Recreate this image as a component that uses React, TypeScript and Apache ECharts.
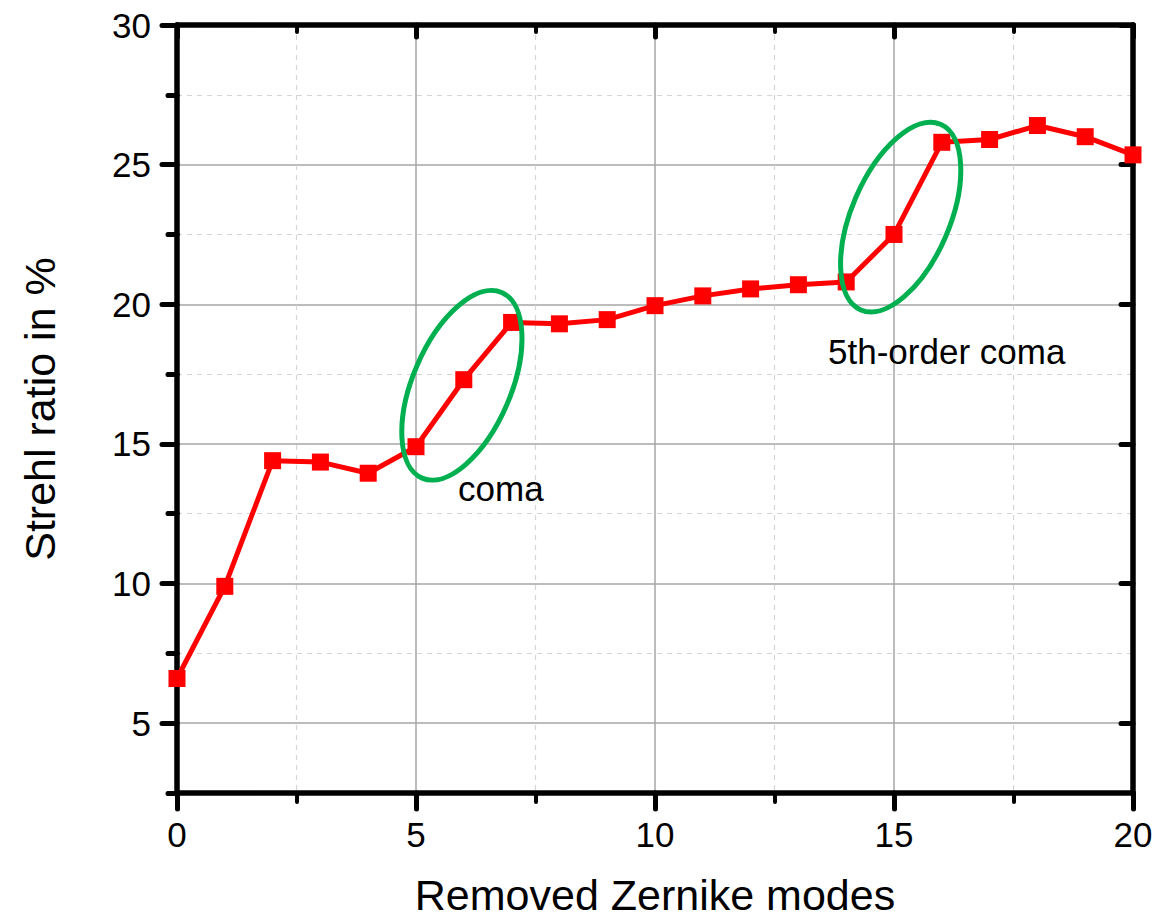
import React, { useEffect, useRef } from "react";
import * as echarts from "echarts";

const modes = [0, 1, 2, 3, 4, 5, 6, 7, 8, 9, 10, 11, 12, 13, 14, 15, 16, 17, 18, 19, 20];
const strehl = [6.6, 9.9, 14.4, 14.35, 13.95, 14.9, 17.3, 19.35, 19.3, 19.45, 19.95, 20.3, 20.55, 20.7, 20.8, 22.5, 25.8, 25.9, 26.4, 26.0, 25.35];
const yMajorTicks = [5, 10, 15, 20, 25, 30];
const yMinorTicks = [2.5, 7.5, 12.5, 17.5, 22.5, 27.5];
const xAxisTitle = "Removed Zernike modes";
const yAxisTitle = "Strehl ratio in %";
// annotations in data coordinates
const ellipseCenters = [
  [5.96, 17.1],
  [15.14, 23.12],
];
const notes: [string, number, number][] = [
  ["coma", 5.88, 13.42],
  ["5th-order coma", 13.62, 18.32],
];

const FONT = "'Liberation Sans', Arial, Helvetica, sans-serif";
const BLACK = "#000";

export default function App() {
  const ref = useRef<HTMLDivElement>(null);
  useEffect(() => {
    if (!ref.current) return;
    const chart = echarts.init(ref.current, undefined, { renderer: "svg" });
    const tickStyle = { color: BLACK, width: 5, cap: "round" as const };
    const yBase = { type: "value" as const, min: 2.5, max: 30, interval: 2.5 };
    chart.setOption({
      animation: false,
      backgroundColor: "#fff",
      grid: { left: 177, right: 23, top: 25, bottom: 129, containLabel: false },
      xAxis: [
        {
          type: "value",
          position: "bottom",
          min: 0,
          max: 20,
          interval: 5,
          axisLine: { show: true, onZero: false, lineStyle: { color: BLACK, width: 5.5, cap: "round" } },
          axisTick: { show: true, length: 16, lineStyle: tickStyle },
          minorTick: { show: true, splitNumber: 2, length: 9, lineStyle: { color: BLACK, width: 4, cap: "round" } },
          axisLabel: { show: true, fontSize: 35, color: BLACK, margin: 24, fontFamily: FONT },
          splitLine: { show: true, lineStyle: { color: "#a6a6a6", width: 1.5 } },
          minorSplitLine: { show: true, lineStyle: { color: "#d4d4d4", width: 1.2, type: [5, 5] } },
          name: xAxisTitle,
          nameLocation: "middle",
          nameGap: 80,
          nameTextStyle: { fontSize: 43, color: BLACK, fontFamily: FONT },
        },
        {
          type: "value",
          position: "top",
          min: 0,
          max: 20,
          interval: 5,
          axisLine: { show: true, onZero: false, lineStyle: { color: BLACK, width: 5.5, cap: "round" } },
          axisTick: { show: true, inside: true, length: 12, lineStyle: tickStyle },
          minorTick: { show: true, splitNumber: 2, length: 7, lineStyle: { color: BLACK, width: 4, cap: "round" } },
          axisLabel: { show: false },
          splitLine: { show: false },
        },
      ],
      yAxis: [
        {
          ...yBase,
          position: "left",
          axisLine: { show: true, onZero: false, lineStyle: { color: BLACK, width: 5.5, cap: "round" } },
          axisTick: { show: true, length: 15, customValues: yMajorTicks, lineStyle: tickStyle },
          axisLabel: {
            show: true,
            customValues: yMajorTicks,
            fontSize: 35,
            color: BLACK,
            margin: 26,
            fontFamily: FONT,
            formatter: (v: number) => (yMajorTicks.includes(v) ? String(v) : ""),
          },
          splitLine: { show: true, lineStyle: { color: "#a6a6a6", width: 1.5 } },
          name: yAxisTitle,
          nameLocation: "middle",
          nameGap: 116,
          nameRotate: 90,
          nameTextStyle: { fontSize: 43, color: BLACK, fontFamily: FONT },
        },
        {
          ...yBase,
          position: "left",
          offset: 0,
          axisLine: { show: false },
          axisTick: { show: true, length: 9, customValues: yMinorTicks, lineStyle: tickStyle },
          axisLabel: { show: false },
          splitLine: { show: true, lineStyle: { color: "#d4d4d4", width: 1.2, type: [5, 5] } },
        },
        {
          ...yBase,
          position: "right",
          axisLine: { show: true, onZero: false, lineStyle: { color: BLACK, width: 5.5, cap: "round" } },
          axisTick: { show: true, inside: true, length: 12, customValues: yMajorTicks, lineStyle: tickStyle },
          axisLabel: { show: false },
          splitLine: { show: false },
        },
        {
          ...yBase,
          position: "right",
          offset: 0,
          axisLine: { show: false },
          axisTick: { show: true, inside: true, length: 8, customValues: yMinorTicks, lineStyle: tickStyle },
          axisLabel: { show: false },
          splitLine: { show: false },
        },
      ],
      series: [
        {
          type: "line",
          xAxisIndex: 0,
          yAxisIndex: 0,
          data: modes.map((m, i) => [m, strehl[i]]),
          symbol: "rect",
          symbolSize: 17,
          lineStyle: { color: "#ff0000", width: 5 },
          itemStyle: { color: "#ff0000" },
          z: 3,
        },
      ],
    });

    const toPx = (p: number[]) => chart.convertToPixel({ xAxisIndex: 0, yAxisIndex: 0 }, p) as number[];
    const graphics: any[] = [];
    ellipseCenters.forEach((c) => {
      const [px, py] = toPx(c);
      graphics.push({
        type: "ellipse",
        x: px,
        y: py,
        rotation: (66.8 * Math.PI) / 180,
        shape: { cx: 0, cy: 0, rx: 101, ry: 49 },
        style: { fill: "none", stroke: "#00b050", lineWidth: 5 },
        z: 10,
        silent: true,
      });
    });
    notes.forEach(([label, x, y]) => {
      const [px, py] = toPx([x, y]);
      graphics.push({
        type: "text",
        x: px,
        y: py,
        style: { text: label, fontSize: 35, fill: BLACK, fontFamily: FONT, align: "left", verticalAlign: "middle" },
        z: 10,
        silent: true,
      });
    });
    chart.setOption({ graphic: graphics });

    return () => chart.dispose();
  }, []);
  return (
    <div
      ref={ref}
      style={{ position: "fixed", left: 0, top: 0, width: 1156, height: 922, background: "#fff" }}
    />
  );
}
